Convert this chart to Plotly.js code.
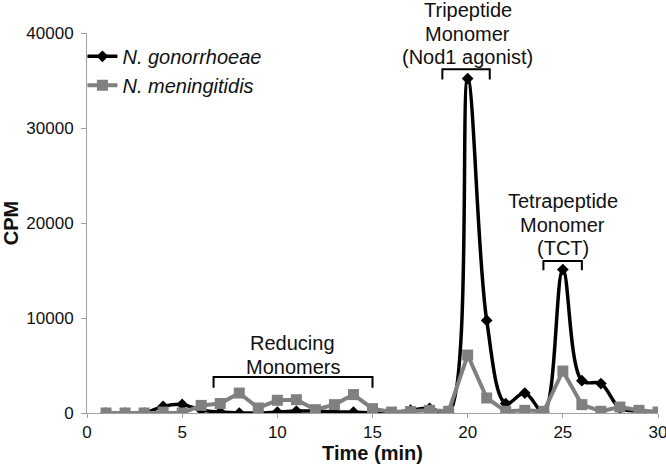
<!DOCTYPE html>
<html>
<head>
<meta charset="utf-8">
<script src="https://cdn.plot.ly/plotly-3.0.1.min.js"></script>
<style>html,body{margin:0;padding:0;background:#fff;}#chart{width:666px;height:467px;}</style>
</head>
<body>
<div id="chart"></div>
<script>
var timeMin = [1,2,3,4,5,6,7,8,9,10,11,12,13,14,15,16,17,18,19,20,21,22,23,24,25,26,27,28,29,30];
var gonorrhoeae = [0,0,0,700,900,300,100,0,0,100,200,200,100,100,0,0,300,500,0,35200,9750,1000,2100,100,15100,3400,3100,500,200,0];
var meningitidis = [0,0,0,100,0,800,1000,2100,530,1340,1400,350,880,1940,460,100,150,280,180,6100,1580,180,280,180,4420,880,180,630,280,100];
var xTicks = [0,5,10,15,20,25,30];
var yTicks = [0,10000,20000,30000,40000];

// bracket annotations: [x start, x end, y bottom, y top]
var brackets = [
  [6.65, 15, 2660, 3790],
  [18.67, 21.16, 35100, 36180],
  [23.98, 26.0, 15020, 16000]
];
var labels = [
  {lines: ['Reducing', 'Monomers'], x: 10.8, y: 0.152},
  {lines: ['Tripeptide', 'Monomer', '(Nod1 agonist)'], x: 20, y: 0.998},
  {lines: ['Tetrapeptide', 'Monomer', '(TCT)'], x: 25, y: 0.496}
];

var FONT = 'Liberation Sans, Arial, sans-serif';
var LINE_GAP = 23.5;

var traces = [
  {
    x: timeMin, y: gonorrhoeae, name: '<i>N. gonorrhoeae</i>',
    type: 'scatter', mode: 'lines+markers',
    line: {color: '#000000', width: 3.5, shape: 'spline', smoothing: 1},
    marker: {symbol: 'diamond', size: 9, color: '#000000'}
  },
  {
    x: timeMin, y: meningitidis, name: '<i>N. meningitidis</i>',
    type: 'scatter', mode: 'lines+markers',
    line: {color: '#808080', width: 4},
    marker: {symbol: 'square', size: 11, color: '#808080'}
  }
];

var shapes = brackets.map(function(b){
  return {
    type: 'path', xref: 'x', yref: 'y',
    path: 'M' + b[0] + ',' + b[2] + ' L' + b[0] + ',' + b[3] + ' L' + b[1] + ',' + b[3] + ' L' + b[1] + ',' + b[2],
    line: {color: '#000000', width: 2}
  };
});

var annotations = [];
labels.forEach(function(l){
  var n = l.lines.length;
  l.lines.forEach(function(t, i){
    annotations.push({
      text: t, x: l.x, y: l.y, xref: 'x', yref: 'paper',
      xanchor: 'center', yanchor: 'middle', showarrow: false,
      yshift: -(i - (n - 1) / 2) * LINE_GAP,
      font: {family: FONT, size: 20, color: '#111111'}
    });
  });
});

var layout = {
  width: 666, height: 467,
  margin: {l: 87, r: 8, t: 33, b: 54, pad: 0},
  paper_bgcolor: '#ffffff', plot_bgcolor: '#ffffff',
  font: {family: FONT, color: '#111111'},
  showlegend: true,
  legend: {
    x: -0.008, y: 0.99, xanchor: 'left', yanchor: 'top',
    bgcolor: 'rgba(0,0,0,0)', borderwidth: 0,
    font: {family: FONT, size: 20, color: '#111111'},
    tracegroupgap: 0
  },
  xaxis: {
    range: [0, 30], tickvals: xTicks, ticktext: xTicks.map(String),
    showgrid: false, zeroline: false,
    showline: true, linecolor: '#a0a0a0', linewidth: 1,
    ticks: 'outside', ticklen: 4, tickcolor: '#a0a0a0',
    ticklabeloverflow: 'allow',
    tickfont: {family: FONT, size: 17, color: '#111111'},
    title: {text: '<b>Time (min)</b>', font: {family: FONT, size: 20, color: '#111111'}, standoff: 4}
  },
  yaxis: {
    range: [0, 40000], tickvals: yTicks, ticktext: yTicks.map(String),
    showgrid: false, zeroline: false,
    showline: true, linecolor: '#a0a0a0', linewidth: 1,
    ticks: 'outside', ticklen: 5, tickcolor: '#a0a0a0',
    ticklabelstandoff: 4,
    tickfont: {family: FONT, size: 17, color: '#111111'},
    title: {text: '<b>CPM</b>', font: {family: FONT, size: 20, color: '#111111'}, standoff: 10}
  },
  shapes: shapes,
  annotations: annotations
};

Plotly.newPlot('chart', traces, layout, {displayModeBar: false, staticPlot: true});
</script>
</body>
</html>
